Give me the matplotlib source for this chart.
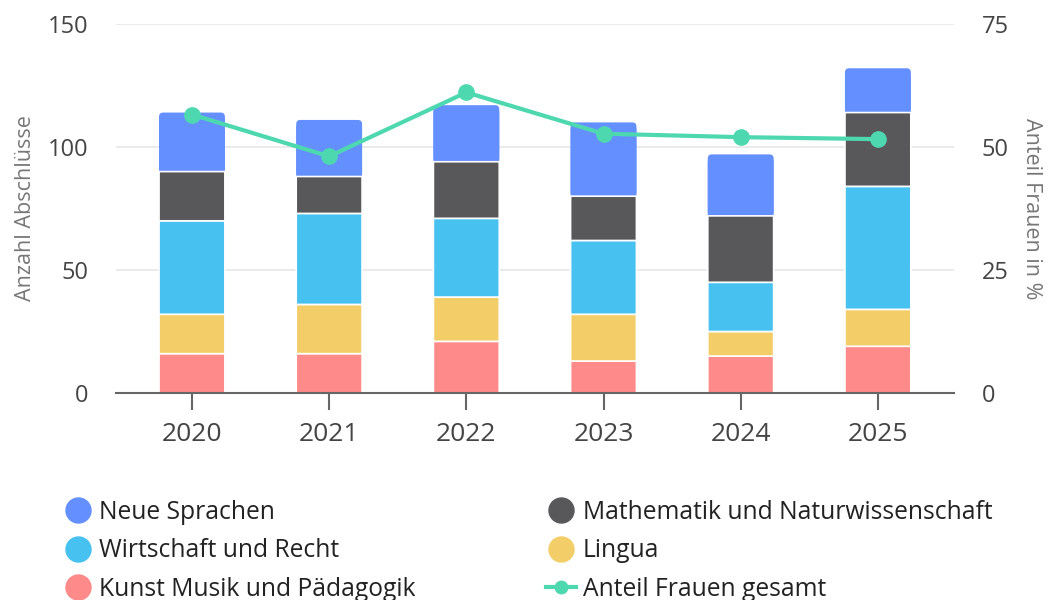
import matplotlib.pyplot as plt
from matplotlib.lines import Line2D
from matplotlib.patches import FancyBboxPatch
import numpy as np

years = ["2020", "2021", "2022", "2023", "2024", "2025"]
kunst = [16, 16, 21, 13, 15, 19]
lingua = [16, 20, 18, 19, 10, 15]
wirtschaft = [38, 37, 32, 30, 20, 50]
mathe = [20, 15, 23, 18, 27, 30]
neue = [24, 23, 23, 30, 25, 18]
anteil_frauen = [56.6, 48.1, 61.1, 52.7, 52.0, 51.6]

plt.rcParams['font.family'] = ['Open Sans', 'DejaVu Sans']

farben = {
    "Neue Sprachen": "#648FFF",
    "Mathematik und Naturwissenschaft": "#58585A",
    "Wirtschaft und Recht": "#47C1F0",
    "Lingua": "#F3CE68",
    "Kunst Musik und Pädagogik": "#FF8A8A",
}
linie_farbe = "#4ED8B0"
breite = 0.48

fig = plt.figure(figsize=(10.58, 6), dpi=100)
ax = fig.add_axes([0.1096, 0.345, 0.792, 0.615])
ax2 = ax.twinx()

x = np.arange(len(years))
stapel = [
    ("Kunst Musik und Pädagogik", kunst),
    ("Lingua", lingua),
    ("Wirtschaft und Recht", wirtschaft),
    ("Mathematik und Naturwissenschaft", mathe),
]
unten = np.zeros(len(years))
for name, werte in stapel:
    ax.bar(x, werte, bottom=unten, width=breite, color=farben[name],
           edgecolor="white", linewidth=1.2, zorder=2, snap=False)
    unten += np.array(werte)

# oberstes Segment mit abgerundeten Ecken oben
for xi, b, h in zip(x, unten, neue):
    ax.add_patch(FancyBboxPatch((xi - breite / 2, b), breite, h,
                                boxstyle="round,pad=0,rounding_size=0.03",
                                mutation_aspect=55, facecolor=farben["Neue Sprachen"],
                                edgecolor="none", zorder=1.9, snap=False))
ax.bar(x, np.array(neue) - 2.5, bottom=unten, width=breite,
       color=farben["Neue Sprachen"], linewidth=0, zorder=1.95, snap=False)

ax2.plot(x, anteil_frauen, color=linie_farbe, linewidth=3, marker="o",
         markersize=11, zorder=5)

ax.set_ylim(0, 150)
ax2.set_ylim(0, 75)
ax.set_xlim(-0.554, 5.554)
ax.set_yticks([0, 50, 100, 150])
ax2.set_yticks([0, 25, 50, 75])
ax.set_xticks(x)
ax.set_xticklabels(years)

ax.grid(axis="y", color="#E6E6E6", linewidth=1.2, zorder=0)
ax.set_axisbelow(True)
for a in (ax, ax2):
    for s in ("top", "right", "left", "bottom"):
        a.spines[s].set_visible(False)
ax.spines["bottom"].set_visible(True)
ax.spines["bottom"].set_color("#666666")
ax.spines["bottom"].set_linewidth(1.5)

ax.tick_params(axis="x", length=12, width=1.5, color="#666666",
               labelsize=19, labelcolor="#444444", pad=9)
ax.tick_params(axis="y", length=0, labelsize=17, labelcolor="#444444", pad=20)
ax2.tick_params(axis="y", length=0, labelsize=17, labelcolor="#444444", pad=20)

ax.set_ylabel("Anzahl Abschlüsse", fontsize=15.5, color="#777777", labelpad=8)
ax2.set_ylabel("Anteil Frauen in %", fontsize=15.5, color="#777777",
               rotation=-90, labelpad=24)

ax2.set_zorder(ax.get_zorder() + 1)
ax2.patch.set_visible(False)

reihenfolge = ["Neue Sprachen", "Wirtschaft und Recht", "Kunst Musik und Pädagogik",
               "Mathematik und Naturwissenschaft", "Lingua"]
handles = [Line2D([0], [0], marker="o", linestyle="none", markersize=18,
                  markerfacecolor=farben[n], markeredgecolor=farben[n], label=n)
           for n in reihenfolge]
handles.append(Line2D([0], [0], color=linie_farbe, linewidth=3, marker="o",
                      markersize=9, label="Anteil Frauen gesamt"))

fig.legend(handles=handles, ncol=2, loc="upper left",
           bbox_to_anchor=(0.0595, 0.167), frameon=False, fontsize=17.7,
           handlelength=1.2, handletextpad=0.28, labelspacing=0.55,
           columnspacing=5.3, labelcolor="#222222",
           borderaxespad=0, borderpad=0)

fig.savefig("out.png", dpi=100)
